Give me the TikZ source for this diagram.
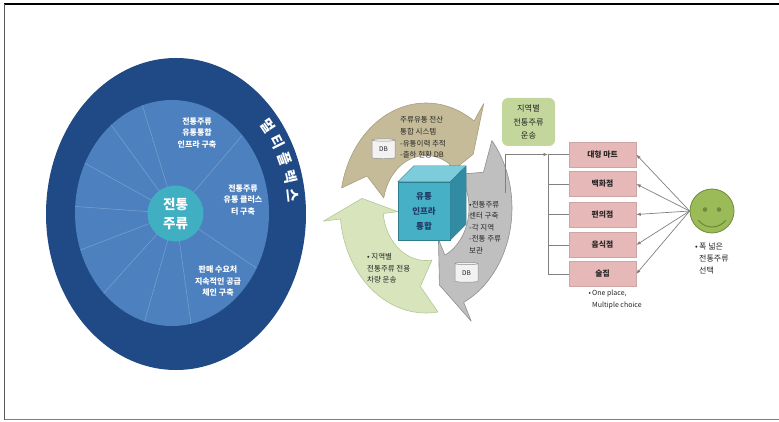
\documentclass[tikz,border=0pt]{standalone}
\usepackage{fontspec}
\setmainfont{Noto Sans CJK KR}
\usetikzlibrary{arrows.meta,shapes.geometric}

\definecolor{ringdark}{HTML}{1F4A85}
\definecolor{ringlight}{HTML}{4C80BE}
\definecolor{hubteal}{HTML}{40AFC2}
\definecolor{spokeblue}{HTML}{7BA2D2}
\definecolor{tanfill}{HTML}{C5BB98}
\definecolor{tanedge}{HTML}{A79E7E}
\definecolor{grayfill}{HTML}{BFBFBF}
\definecolor{grayedge}{HTML}{8E8E8E}
\definecolor{greenfill}{HTML}{D8E4BC}
\definecolor{greenedge}{HTML}{B4C795}
\definecolor{cubefront}{HTML}{46B1C6}
\definecolor{cubetop}{HTML}{7CCCDB}
\definecolor{cubeside}{HTML}{318CA3}
\definecolor{cubetext}{HTML}{1F3864}
\definecolor{boxgreen}{HTML}{C3D69B}
\definecolor{boxpink}{HTML}{E6B9B8}
\definecolor{pinkedge}{HTML}{CDA5A4}
\definecolor{smile}{HTML}{9BBB59}
\definecolor{smileedge}{HTML}{6F8A38}
\definecolor{linkgray}{HTML}{808080}
\definecolor{textdark}{HTML}{262626}

% ring geometry of the three-part cycle
\def\cycRX{86}
\def\cycRY{105}
\def\cycRi{0.5}
\def\cycRm{0.75}
\def\cycBo{1.2}
\def\cycBi{0.33}
\def\cycNotch{13}

% #1 fill, #2 edge, #3 tail angle, #4 head base angle, #5 tip angle (clockwise)
\newcommand{\cyclearrow}[5]{%
  \filldraw[fill=#1, draw=#2, line width=0.6pt, line join=round]
    plot[domain=#3:#4, samples=40] ({\cycRX*cos(\x)},{\cycRY*sin(\x)})
    -- ({\cycRX*\cycBo*cos(#4)},{\cycRY*\cycBo*sin(#4)})
    -- ({\cycRX*\cycRm*cos(#5)},{\cycRY*\cycRm*sin(#5)})
    -- ({\cycRX*\cycBi*cos(#4)},{\cycRY*\cycBi*sin(#4)})
    -- plot[domain=#4:#3, samples=40] ({\cycRX*\cycRi*cos(\x)},{\cycRY*\cycRi*sin(\x)})
    -- ({\cycRX*\cycRm*cos(#3-\cycNotch)},{\cycRY*\cycRm*sin(#3-\cycNotch)})
    -- cycle;}

\begin{document}
\begin{tikzpicture}[x=1pt,y=1pt,
  lbl/.style={font=\fontsize{8}{11.7}\selectfont\bfseries, text=white, align=center, inner sep=0pt},
  note/.style={font=\fontsize{7.5}{11.6}\selectfont, text=textdark, align=left, inner sep=0pt, anchor=west},
  dbcyl/.style={cylinder, shape border rotate=90, aspect=0.28, draw=grayedge, fill=gray!10, line width=0.5pt,
    minimum width=23pt, minimum height=20pt, inner sep=0pt, font=\fontsize{6.5}{7}\selectfont, text=textdark},
  shopbox/.style={rectangle, draw=pinkedge, fill=boxpink, line width=0.5pt, minimum width=67pt,
    minimum height=25pt, inner sep=0pt, font=\fontsize{7.8}{9}\selectfont\bfseries, text=textdark},
  link/.style={draw=linkgray, line width=0.7pt},
  linktip/.style={link, -{Latex[length=4.5pt,width=3.5pt]}},
]
\useasboundingbox (0,0) rectangle (779,421);

% frame
\draw[black, line width=1.4pt] (4,417) -- (779,417);
\draw[gray!70!black, line width=1.2pt] (4.5,417) -- (4.5,1.2);
\draw[gray, line width=1.2pt] (4.5,1.2) -- (779,1.2);

% ---------- multiplex wheel ----------
\fill[ringdark] (176,207) ellipse[x radius=130, y radius=156];
\fill[ringlight] (172,208) ellipse[x radius=97, y radius=113];
\begin{scope}
  \clip (172,208) ellipse[x radius=97, y radius=113];
  \foreach \a in {49.5,107,126,151,176,201,228,254,278,326}
    \draw[spokeblue, line width=0.5pt] (175.5,207.5) -- ++(\a:150);
\end{scope}
\node[circle, fill=hubteal, minimum size=56pt, inner sep=0pt, align=center, text=white,
  font=\fontsize{13.5}{19}\selectfont\bfseries] (hub) at (175.5,207.5) {전통\\주류};
\node[lbl] (infra) at (197,288) {전통주류\\유통통합\\인프라 구축};
\node[lbl] (cluster) at (243,221) {전통주류\\유통 클러스\\터 구축};
\node[lbl] (supply) at (218,140) {판매 수요처\\지속적인 공급\\체인 구축};
% ring title set syllable by syllable along the dark band
\foreach \s/\t [count=\i] in {멀/38.5, 티/30.75, 플/23, 렉/15.25, 스/7.5} {
  \pgfmathsetmacro\rot{atan2(-141*cos(\t), 119*sin(\t))}
  \node[text=white, font=\fontsize{14.5}{16}\selectfont\bfseries, rotate=\rot, inner sep=0pt]
    (plex\i) at ({175+119*cos(\t)},{207+141*sin(\t)}) {\s};
}

% ---------- distribution cycle ----------
\begin{scope}[shift={(426,213)}]
  \cyclearrow{grayfill}{grayedge}{40}{-64}{-78}
  \cyclearrow{greenfill}{greenedge}{278}{186}{173}
  \cyclearrow{tanfill}{tanedge}{169}{56}{43}
\end{scope}

% cube
\node[rectangle, fill=cubefront, draw=cubefront!70!black, line width=0.4pt, minimum width=52pt, minimum height=58pt,
  inner sep=0pt, align=center, text=cubetext, font=\fontsize{8.5}{15}\selectfont\bfseries] (cube) at (424,210) {유통\\인프라\\통합};
\filldraw[fill=cubetop, draw=cubefront!70!black, line width=0.4pt]
  (cube.north west) -- ++(16,16) -- ++(52,0) -- (cube.north east) -- cycle;
\filldraw[fill=cubeside, draw=cubefront!70!black, line width=0.4pt]
  (cube.south east) -- ++(16,16) -- ++(0,58) -- (cube.north east) -- cycle;

\node[note] (systext) at (400,283.5) {주류유통 전산\\통합 시스템\\-유통이력 추적\\-출하 현황 DB};
\node[dbcyl] (db1) at (383.5,271.5) {DB};
\node[note] (centertext) at (469,193.5) {•전통주류\\센터 구축\\-각 지역\\-전통 주류\\보관};
\node[dbcyl] (db2) at (466.5,148) {DB};
\node[note] (cartext) at (367,152.5) {• 지역별\\전통주류 전용\\차량 운송};

% ---------- outlets ----------
\node[rectangle, rounded corners=6pt, fill=boxgreen, minimum width=53pt, minimum height=48pt, inner sep=0pt,
  align=center, text=textdark, font=\fontsize{8.2}{13.5}\selectfont] (region) at (528.5,299) {지역별\\전통주류\\운송};

\node[shopbox] (b1) at (602.5,266.5) {대형 마트};
\node[shopbox] (b2) at (602.5,237) {백화점};
\node[shopbox] (b3) at (602.5,206.5) {편의점};
\node[shopbox] (b4) at (602.5,176) {음식점};
\node[shopbox] (b5) at (602.5,147) {술집};

\coordinate (tap) at (505,228);
\coordinate (junction) at (548,266.5);
\draw[linktip] (tap) |- (junction);
\draw[link] (junction) -- (b1.west);
\draw[link] (junction) -- (junction |- b5.west) -- (b5.west);
\draw[link] (junction |- b2.west) -- (b2.west);
\draw[link] (junction |- b3.west) -- (b3.west);
\draw[link] (junction |- b4.west) -- (b4.west);

\node[inner sep=0pt, align=left, anchor=west, text=textdark, font=\fontsize{7}{12}\selectfont] (oneplace)
  at (592,121) {\llap{•\,}One place,\\Multiple choice};

% smiling customer
\node[circle, fill=smile, draw=smileedge, line width=0.8pt, minimum size=44pt, inner sep=0pt] (face) at (712,210) {};
\fill[smileedge] (face.center) ++(-7,1.5) circle[radius=2.3];
\fill[smileedge] (face.center) ++(7,1.5) circle[radius=2.3];
\draw[smileedge, line width=1.1pt, line cap=round] (face.center) ++(-13.5,-9.5) arc[start angle=218.7, end angle=321.3, radius=17.3];

\foreach \b in {b1,b2,b3,b4,b5}
  \draw[linktip] (face.west) -- (\b.east);

\node[inner sep=0pt, align=left, anchor=west, text=textdark, font=\fontsize{8}{12}\selectfont] (choice)
  at (699,162) {\llap{•\,}폭 넓은\\전통주류\\선택};
\end{tikzpicture}
\end{document}
